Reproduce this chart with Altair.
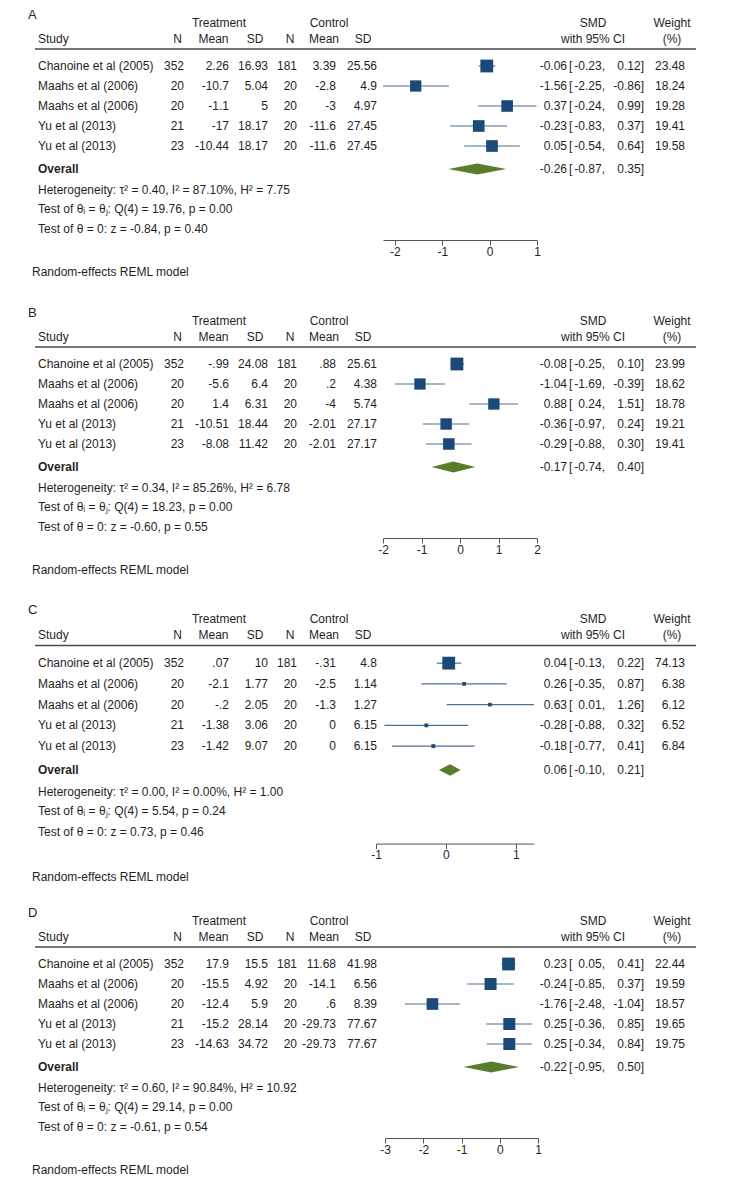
import altair as alt
import pandas as pd

# ---------------- data ----------------
STUDIES = ["Chanoine et al (2005)", "Maahs et al (2006)", "Maahs et al (2006)",
           "Yu et al (2013)", "Yu et al (2013)"]
T_N = [352, 20, 20, 21, 23]
C_N = [181, 20, 20, 20, 20]

A_T_MEAN = ["2.26", "-10.7", "-1.1", "-17", "-10.44"]
A_T_SD = ["16.93", "5.04", "5", "18.17", "18.17"]
A_C_MEAN = ["3.39", "-2.8", "-3", "-11.6", "-11.6"]
A_C_SD = ["25.56", "4.9", "4.97", "27.45", "27.45"]
A_SMD = [-0.06, -1.56, 0.37, -0.23, 0.05]
A_LO = [-0.23, -2.25, -0.24, -0.83, -0.54]
A_HI = [0.12, -0.86, 0.99, 0.37, 0.64]
A_W = [23.48, 18.24, 19.28, 19.41, 19.58]
A_OVERALL = [-0.26, -0.87, 0.35]
A_STATS = ["Heterogeneity: \u03c4\u00b2 = 0.40, I\u00b2 = 87.10%, H\u00b2 = 7.75",
           "Test of \u03b8\u1d62 = \u03b8\u2c7c: Q(4) = 19.76, p = 0.00",
           "Test of \u03b8 = 0: z = -0.84, p = 0.40"]
A_TICKS = [-2, -1, 0, 1]

B_T_MEAN = ["-.99", "-5.6", "1.4", "-10.51", "-8.08"]
B_T_SD = ["24.08", "6.4", "6.31", "18.44", "11.42"]
B_C_MEAN = [".88", ".2", "-4", "-2.01", "-2.01"]
B_C_SD = ["25.61", "4.38", "5.74", "27.17", "27.17"]
B_SMD = [-0.08, -1.04, 0.88, -0.36, -0.29]
B_LO = [-0.25, -1.69, 0.24, -0.97, -0.88]
B_HI = [0.10, -0.39, 1.51, 0.24, 0.30]
B_W = [23.99, 18.62, 18.78, 19.21, 19.41]
B_OVERALL = [-0.17, -0.74, 0.40]
B_STATS = ["Heterogeneity: \u03c4\u00b2 = 0.34, I\u00b2 = 85.26%, H\u00b2 = 6.78",
           "Test of \u03b8\u1d62 = \u03b8\u2c7c: Q(4) = 18.23, p = 0.00",
           "Test of \u03b8 = 0: z = -0.60, p = 0.55"]
B_TICKS = [-2, -1, 0, 1, 2]

C_T_MEAN = [".07", "-2.1", "-.2", "-1.38", "-1.42"]
C_T_SD = ["10", "1.77", "2.05", "3.06", "9.07"]
C_C_MEAN = ["-.31", "-2.5", "-1.3", "0", "0"]
C_C_SD = ["4.8", "1.14", "1.27", "6.15", "6.15"]
C_SMD = [0.04, 0.26, 0.63, -0.28, -0.18]
C_LO = [-0.13, -0.35, 0.01, -0.88, -0.77]
C_HI = [0.22, 0.87, 1.26, 0.32, 0.41]
C_W = [74.13, 6.38, 6.12, 6.52, 6.84]
C_OVERALL = [0.06, -0.10, 0.21]
C_STATS = ["Heterogeneity: \u03c4\u00b2 = 0.00, I\u00b2 = 0.00%, H\u00b2 = 1.00",
           "Test of \u03b8\u1d62 = \u03b8\u2c7c: Q(4) = 5.54, p = 0.24",
           "Test of \u03b8 = 0: z = 0.73, p = 0.46"]
C_TICKS = [-1, 0, 1]

D_T_MEAN = ["17.9", "-15.5", "-12.4", "-15.2", "-14.63"]
D_T_SD = ["15.5", "4.92", "5.9", "28.14", "34.72"]
D_C_MEAN = ["11.68", "-14.1", ".6", "-29.73", "-29.73"]
D_C_SD = ["41.98", "6.56", "8.39", "77.67", "77.67"]
D_SMD = [0.23, -0.24, -1.76, 0.25, 0.25]
D_LO = [0.05, -0.85, -2.48, -0.36, -0.34]
D_HI = [0.41, 0.37, -1.04, 0.85, 0.84]
D_W = [22.44, 19.59, 18.57, 19.65, 19.75]
D_OVERALL = [-0.22, -0.95, 0.50]
D_STATS = ["Heterogeneity: \u03c4\u00b2 = 0.60, I\u00b2 = 90.84%, H\u00b2 = 10.92",
           "Test of \u03b8\u1d62 = \u03b8\u2c7c: Q(4) = 29.14, p = 0.00",
           "Test of \u03b8 = 0: z = -0.61, p = 0.54"]
D_TICKS = [-3, -2, -1, 0, 1]

NOTE = "Random-effects REML model"

# ---------------- layout / style ----------------
FONT = "Liberation Sans"
TXT = "#1f1f1f"
SQ = "#1b4a78"
CI_COL = "#4b7395"
DIA = "#5a7d2c"
AX = "#555555"

ROW_PITCH = 20.0
Y_TOP = -2.9
ROW = dict(letter=-2.55, head1=-2.15, head2=-1.35, rule=-0.85, overall=5.15,
           het=6.2, q=7.15, z=8.15, axis=8.7, note=10.3)
COL = dict(letter=20, study=30, tn=176, tmean=221, tsd=260, cn=289, cmean=328, csd=369,
           est=559, lbr=561, lo=597, hi=636, w=677,
           h_tn=169.5, h_tmean=205.5, h_tsd=247, h_cn=282, h_cmean=316, h_csd=355,
           h_treat=211, h_ctrl=321, h_smd=585, h_w=664, rule0=27, rule1=688, note=24)
DIAMOND_HALF = 0.275
SQ_MAX_AREA = 164
WIDTH = 720

PANELS = [
    dict(letter="A", tm=A_T_MEAN, tsd=A_T_SD, cm=A_C_MEAN, csd=A_C_SD, smd=A_SMD, lo=A_LO,
         hi=A_HI, w=A_W, ov=A_OVERALL, stats=A_STATS, ticks=A_TICKS,
         k=1.0, H=297.5, xpx=[375, 529]),
    dict(letter="B", tm=B_T_MEAN, tsd=B_T_SD, cm=B_C_MEAN, csd=B_C_SD, smd=B_SMD, lo=B_LO,
         hi=B_HI, w=B_W, ov=B_OVERALL, stats=B_STATS, ticks=B_TICKS,
         k=1.0, H=297.0, xpx=[375, 529]),
    dict(letter="C", tm=C_T_MEAN, tsd=C_T_SD, cm=C_C_MEAN, csd=C_C_SD, smd=C_SMD, lo=C_LO,
         hi=C_HI, w=C_W, ov=C_OVERALL, stats=C_STATS, ticks=C_TICKS,
         k=1.037, H=302.5, xpx=[368, 526]),
    dict(letter="D", tm=D_T_MEAN, tsd=D_T_SD, cm=D_C_MEAN, csd=D_C_SD, smd=D_SMD, lo=D_LO,
         hi=D_HI, w=D_W, ov=D_OVERALL, stats=D_STATS, ticks=D_TICKS,
         k=1.0, H=268.0, xpx=[377, 530]),
]


def make_panel(p):
    pitch = ROW_PITCH * p["k"]
    H = p["H"]
    yscale = alt.Scale(domain=[Y_TOP, Y_TOP + H / pitch], range=[0, H], nice=False, zero=False)
    x_min = min(min(p["lo"]), p["ov"][1], p["ticks"][0])
    x_max = max(max(p["hi"]), p["ov"][2], p["ticks"][-1])
    xscale = alt.Scale(domain=[x_min, x_max], range=p["xpx"], nice=False, zero=False)
    axis_px = (ROW["axis"] - Y_TOP) * pitch
    axis = alt.Axis(values=p["ticks"], offset=-(H - axis_px), grid=False, title=None,
                    domainColor=AX, tickColor=AX, tickSize=5, domainWidth=1, tickWidth=1,
                    labelColor=TXT, labelFont=FONT, labelFontSize=12, labelPadding=1,
                    labelFlush=False, labelOverlap=False, labelExpr="'' + datum.value")

    df = pd.DataFrame({
        "row": list(range(len(STUDIES))),
        "study": STUDIES,
        "tn": [str(v) for v in T_N], "tm": p["tm"], "tsd": p["tsd"],
        "cn": [str(v) for v in C_N], "cm": p["cm"], "csd": p["csd"],
        "smd": p["smd"], "lo": p["lo"], "hi": p["hi"], "w": p["w"],
    })
    df["est_t"] = [f"{v:.2f}" for v in df["smd"]]
    df["lo_t"] = [f"{v:.2f}," for v in df["lo"]]
    df["hi_t"] = [f"{v:.2f}]" for v in df["hi"]]
    df["w_t"] = [f"{v:.2f}" for v in df["w"]]
    df["lbr"] = "["

    y_enc = alt.Y("row:Q", scale=yscale, axis=None)

    def col_text(data, field, x, align, bold=False, size=12):
        return alt.Chart(data).mark_text(
            align=align, baseline="middle", font=FONT, fontSize=size, color=TXT,
            fontWeight="bold" if bold else "normal"
        ).encode(x=alt.value(x), y=y_enc, text=alt.Text(f"{field}:N"))

    def label(text, row, x, align, bold=False, size=12):
        d = pd.DataFrame({"row": [row], "t": [text]})
        return col_text(d, "t", x, align, bold, size)

    layers = []
    # header rule
    layers.append(alt.Chart(pd.DataFrame({"row": [ROW["rule"]]})).mark_rule(
        color="#4a4a4a", strokeWidth=1.5).encode(
        x=alt.value(COL["rule0"]), x2=alt.value(COL["rule1"]), y=y_enc))
    # CI lines
    layers.append(alt.Chart(df).mark_rule(color=CI_COL, strokeWidth=1.2).encode(
        x=alt.X("lo:Q", scale=xscale, axis=axis), x2="hi:Q", y=y_enc))
    # squares (area proportional to weight)
    layers.append(alt.Chart(df).mark_square(color=SQ, opacity=1).encode(
        x=alt.X("smd:Q", scale=xscale, axis=axis), y=y_enc,
        size=alt.Size("w:Q", scale=alt.Scale(domain=[0, max(p["w"])], range=[0, SQ_MAX_AREA]),
                      legend=None)))
    # overall diamond
    est, lo, hi = p["ov"]
    r = ROW["overall"]
    dd = pd.DataFrame({"x": [lo, est, hi], "y1": [r, r - DIAMOND_HALF, r],
                       "y2": [r, r + DIAMOND_HALF, r]})
    layers.append(alt.Chart(dd).mark_area(color=DIA, opacity=1, orient="vertical").encode(
        x=alt.X("x:Q", scale=xscale, axis=axis),
        y=alt.Y("y1:Q", scale=yscale, axis=None), y2="y2:Q"))

    # study table
    layers += [
        col_text(df, "study", COL["study"], "left"),
        col_text(df, "tn", COL["tn"], "right"),
        col_text(df, "tm", COL["tmean"], "right"),
        col_text(df, "tsd", COL["tsd"], "right"),
        col_text(df, "cn", COL["cn"], "right"),
        col_text(df, "cm", COL["cmean"], "right"),
        col_text(df, "csd", COL["csd"], "right"),
        col_text(df, "est_t", COL["est"], "right"),
        col_text(df, "lbr", COL["lbr"], "left"),
        col_text(df, "lo_t", COL["lo"], "right"),
        col_text(df, "hi_t", COL["hi"], "right"),
        col_text(df, "w_t", COL["w"], "right"),
    ]
    # headers
    layers += [
        label(p["letter"], ROW["letter"], COL["letter"], "left", size=13),
        label("Treatment", ROW["head1"], COL["h_treat"], "center"),
        label("Control", ROW["head1"], COL["h_ctrl"], "center"),
        label("SMD", ROW["head1"], COL["h_smd"], "center"),
        label("Weight", ROW["head1"], COL["h_w"], "center"),
        label("Study", ROW["head2"], COL["study"], "left"),
        label("N", ROW["head2"], COL["h_tn"], "center"),
        label("Mean", ROW["head2"], COL["h_tmean"], "center"),
        label("SD", ROW["head2"], COL["h_tsd"], "center"),
        label("N", ROW["head2"], COL["h_cn"], "center"),
        label("Mean", ROW["head2"], COL["h_cmean"], "center"),
        label("SD", ROW["head2"], COL["h_csd"], "center"),
        label("with 95% CI", ROW["head2"], COL["h_smd"], "center"),
        label("(%)", ROW["head2"], COL["h_w"], "center"),
    ]
    # overall + footer
    layers += [
        label("Overall", ROW["overall"], COL["study"], "left", bold=True),
        label(f"{est:.2f}", ROW["overall"], COL["est"], "right"),
        label("[", ROW["overall"], COL["lbr"], "left"),
        label(f"{lo:.2f},", ROW["overall"], COL["lo"], "right"),
        label(f"{hi:.2f}]", ROW["overall"], COL["hi"], "right"),
        label(p["stats"][0], ROW["het"], COL["study"], "left"),
        label(p["stats"][1], ROW["q"], COL["study"], "left"),
        label(p["stats"][2], ROW["z"], COL["study"], "left"),
        label(NOTE, ROW["note"], COL["note"], "left"),
    ]
    return alt.layer(*layers).properties(width=WIDTH, height=H)


chart = alt.vconcat(*[make_panel(p) for p in PANELS], spacing=0).resolve_scale(
    size="independent"
).properties(
    padding=0, background="white"
).configure(font=FONT).configure_view(stroke=None)

chart.save("out.html", embed_options={"renderer": "svg", "actions": False})
